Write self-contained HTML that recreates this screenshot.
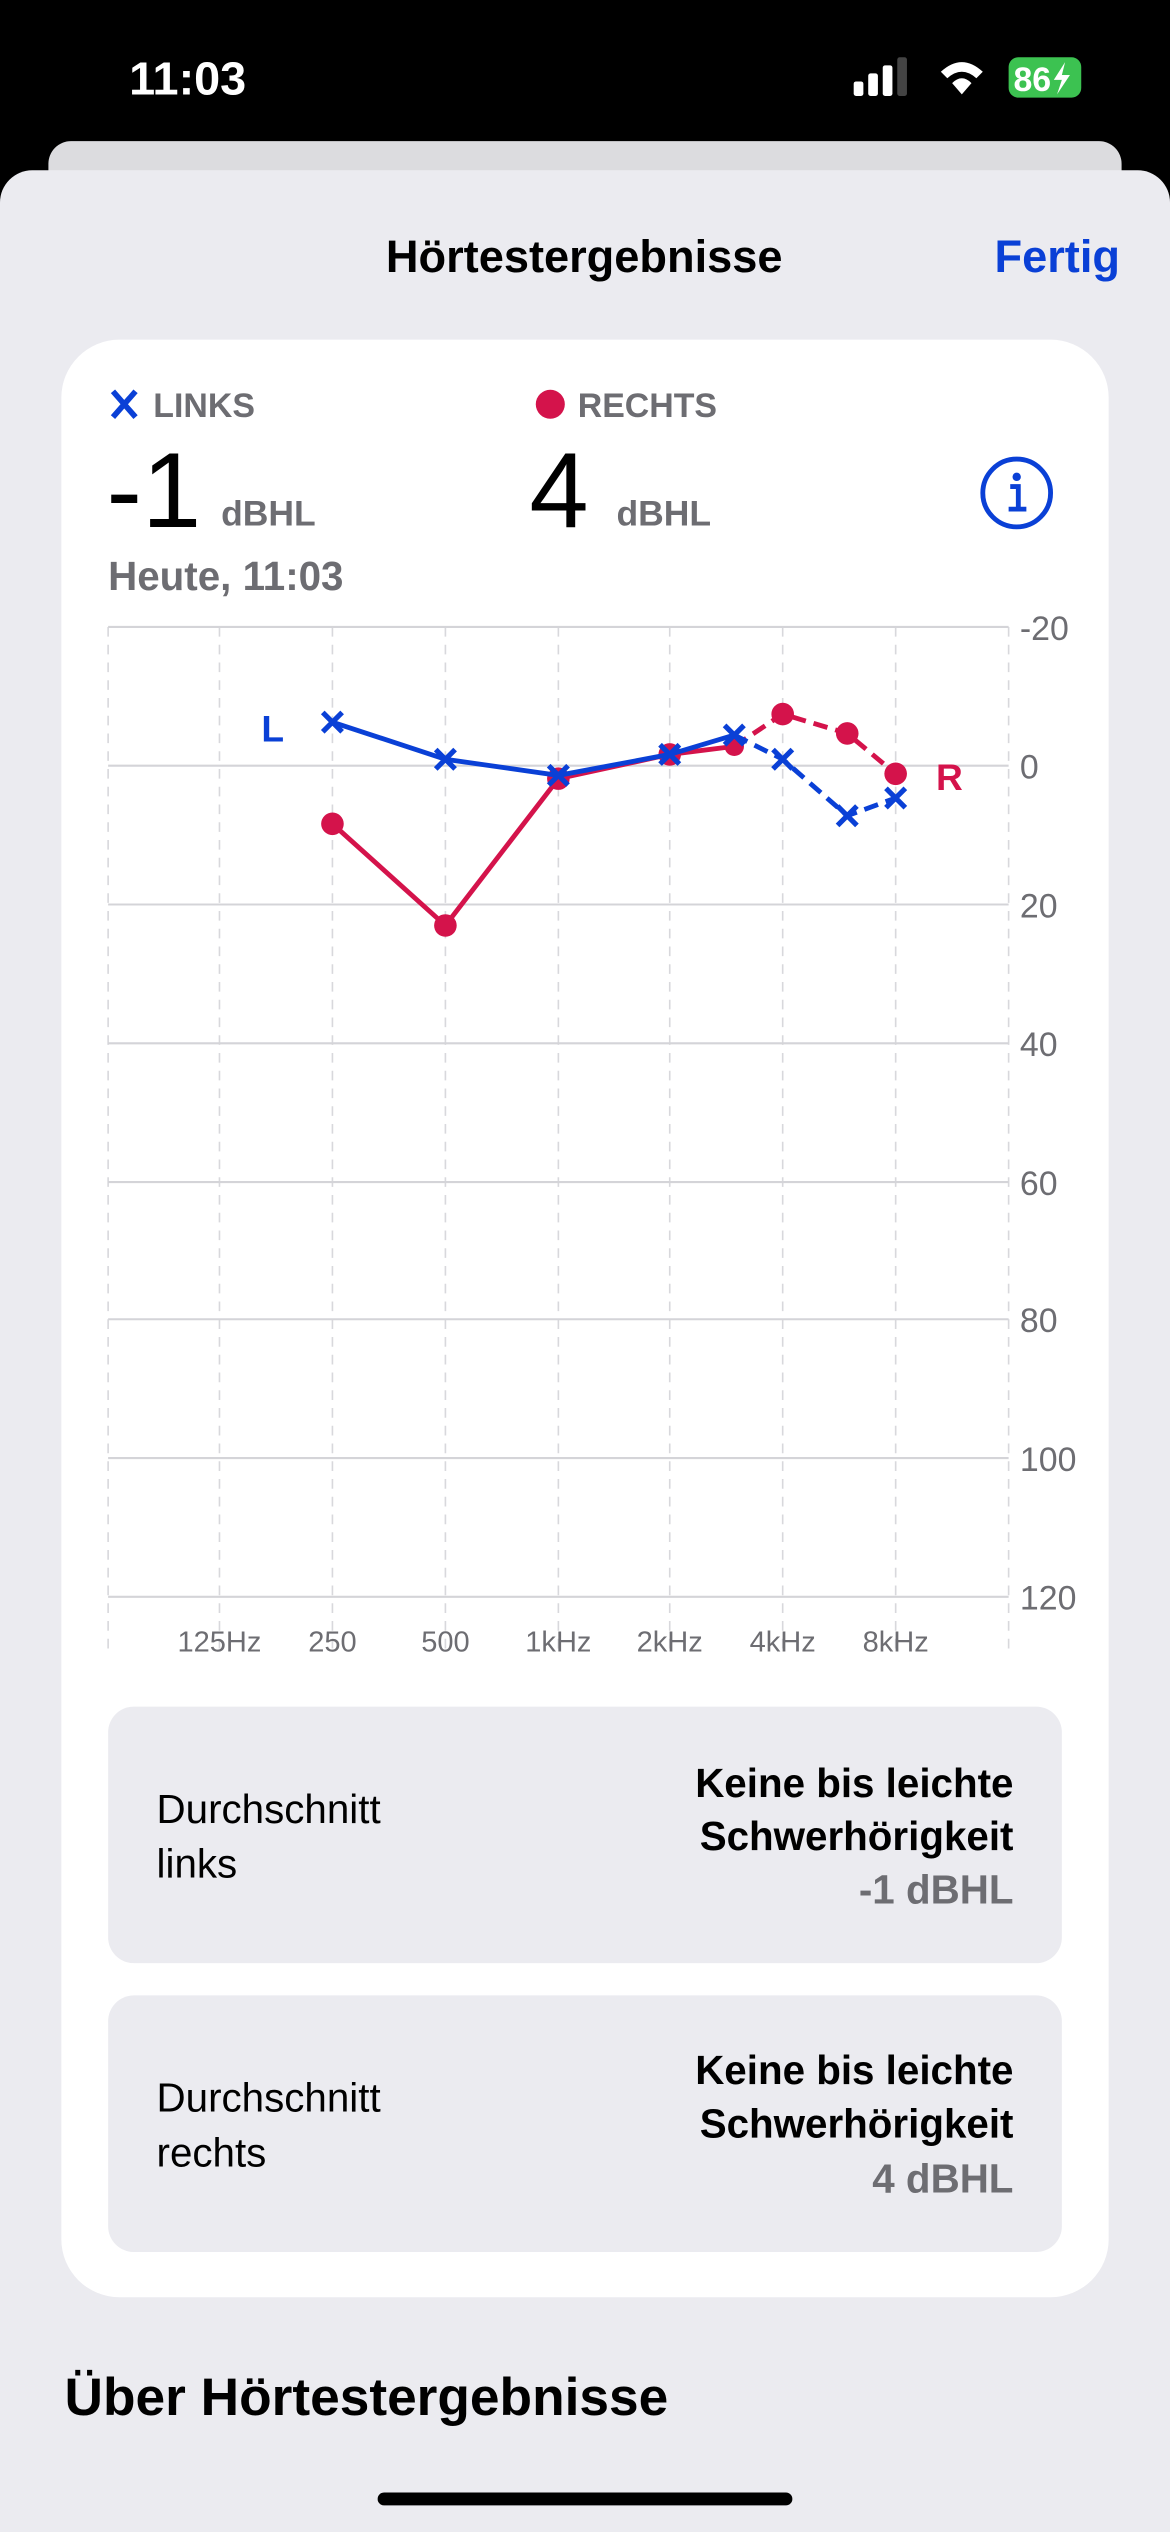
<!DOCTYPE html>
<html><head><meta charset="utf-8"><style>
html,body{margin:0;padding:0;background:#000;width:1170px;height:2532px;overflow:hidden}
svg{display:block}
text{font-family:"Liberation Sans",sans-serif}
</style></head><body>
<svg width="1170" height="2532" viewBox="0 0 725 1568" xmlns="http://www.w3.org/2000/svg">
<rect width="725" height="1568" fill="#000"/>
<text x="80" y="58" font-size="29" font-weight="bold" fill="#fff">11:03</text>
<rect x="529" y="50" width="6" height="9" rx="1.5" fill="#fff"/>
<rect x="538" y="45" width="6" height="14" rx="1.5" fill="#fff"/>
<rect x="547" y="40" width="6" height="19" rx="1.5" fill="#fff"/>
<rect x="556" y="35" width="6" height="24" rx="1.5" fill="#444"/>
<path d="M583 44 Q596 32 609 44 L605 48 Q596 40 587 48Z M590 51 Q596 45 602 51 L596 58Z" fill="#fff"/>
<rect x="625" y="35" width="45" height="25" rx="6" fill="#3cc251"/>
<text x="628" y="56" font-size="21" font-weight="bold" fill="#fff">86</text>
<path d="M660 38 L653 49 L658 49 L655 58 L663 46 L658 46Z" fill="#fff"/>
<rect x="30" y="87" width="665" height="40" rx="14" fill="#dcdcdf"/>
<rect x="0" y="105" width="725" height="1500" rx="20" fill="#ebebf0"/>
<text x="362" y="168" font-size="28" font-weight="bold" text-anchor="middle" fill="#000">Hörtestergebnisse</text>
<text x="694" y="168" font-size="28" font-weight="bold" text-anchor="end" fill="#0a40d6">Fertig</text>
<rect x="38" y="210" width="649" height="1213" rx="36" fill="#fff"/>
<path d="M70 242 L84 258 M84 242 L70 258" stroke="#0a40d6" stroke-width="3.5"/>
<text x="95" y="258" font-size="21" font-weight="bold" fill="#6d6d72">LINKS</text>
<circle cx="341" cy="250" r="9" fill="#d4134b"/>
<text x="358" y="258" font-size="21" font-weight="bold" fill="#6d6d72">RECHTS</text>
<text x="66" y="326" font-size="66" fill="#000">-1</text>
<text x="137" y="325" font-size="22" font-weight="bold" fill="#6d6d72">dBHL</text>
<text x="328" y="326" font-size="66" fill="#000">4</text>
<text x="382" y="325" font-size="22" font-weight="bold" fill="#6d6d72">dBHL</text>
<circle cx="630" cy="305" r="21" fill="none" stroke="#0a40d6" stroke-width="3"/>
<circle cx="630" cy="295" r="2.6" fill="#0a40d6"/>
<path d="M626 301 L631 301 L631 315 M625 315 L636 315" stroke="#0a40d6" stroke-width="3" fill="none"/>
<text x="67" y="365" font-size="25" font-weight="bold" fill="#6d6d72">Heute, 11:03</text>
<g stroke="#d8d8dc" stroke-width="1" stroke-dasharray="6,5">
<line x1="67" y1="388" x2="67" y2="1022"/><line x1="136" y1="388" x2="136" y2="1022"/><line x1="206" y1="388" x2="206" y2="1022"/><line x1="276" y1="388" x2="276" y2="1022"/><line x1="346" y1="388" x2="346" y2="1022"/><line x1="415" y1="388" x2="415" y2="1022"/><line x1="485" y1="388" x2="485" y2="1022"/><line x1="555" y1="388" x2="555" y2="1022"/><line x1="625" y1="388" x2="625" y2="1022"/>
</g>
<g stroke="#d4d4d8" stroke-width="1.3">
<line x1="67" y1="388" x2="625" y2="388"/><line x1="67" y1="474" x2="625" y2="474"/><line x1="67" y1="560" x2="625" y2="560"/><line x1="67" y1="646" x2="625" y2="646"/><line x1="67" y1="732" x2="625" y2="732"/><line x1="67" y1="817" x2="625" y2="817"/><line x1="67" y1="903" x2="625" y2="903"/><line x1="67" y1="989" x2="625" y2="989"/>
</g>
<g font-size="21" fill="#6d6d72">
<text x="632" y="396">-20</text><text x="632" y="482">0</text><text x="632" y="568">20</text><text x="632" y="654">40</text><text x="632" y="740">60</text><text x="632" y="825">80</text><text x="632" y="911">100</text><text x="632" y="997">120</text>
</g>
<g font-size="18" fill="#6d6d72" text-anchor="middle">
<text x="136" y="1023">125Hz</text><text x="206" y="1023">250</text><text x="276" y="1023">500</text><text x="346" y="1023">1kHz</text><text x="415" y="1023">2kHz</text><text x="485" y="1023">4kHz</text><text x="555" y="1023">8kHz</text>
</g>
<g stroke="#d4134b" stroke-width="3" fill="none">
<polyline points="206,510 276,573 346,482 415,467 455,462"/>
<polyline points="455,462 485,442 525,454 555,479" stroke-dasharray="9,5"/>
</g>
<g fill="#d4134b">
<circle cx="206" cy="510" r="7"/><circle cx="276" cy="573" r="7"/><circle cx="346" cy="482" r="7"/><circle cx="415" cy="467" r="7"/><circle cx="455" cy="462" r="6"/><circle cx="485" cy="442" r="7"/><circle cx="525" cy="454" r="7"/><circle cx="555" cy="479" r="7"/>
</g>
<g stroke="#0a40d6" stroke-width="3" fill="none">
<polyline points="206,447 276,470 346,480 415,467 455,455"/>
<polyline points="455,455 485,470 525,505 555,494" stroke-dasharray="9,5"/>
</g>
<g stroke="#0a40d6" stroke-width="3.2">
<path d="M200 441 L212 453 M212 441 L200 453"/>
<path d="M270 464 L282 476 M282 464 L270 476"/>
<path d="M340 474 L352 486 M352 474 L340 486"/>
<path d="M409 461 L421 473 M421 461 L409 473"/>
<path d="M449 449 L461 461 M461 449 L449 461"/>
<path d="M479 464 L491 476 M491 464 L479 476"/>
<path d="M519 499 L531 511 M531 499 L519 511"/>
<path d="M549 488 L561 500 M561 488 L549 500"/>
</g>
<text x="162" y="459" font-size="23" font-weight="bold" fill="#0a40d6">L</text>
<text x="580" y="489" font-size="23" font-weight="bold" fill="#d4134b">R</text>
<rect x="67" y="1057" width="591" height="159" rx="16" fill="#ebebf0"/>
<rect x="67" y="1236" width="591" height="159" rx="16" fill="#ebebf0"/>
<g font-size="25" fill="#000">
<text x="97" y="1129">Durchschnitt</text><text x="97" y="1163">links</text>
<text x="97" y="1308">Durchschnitt</text><text x="97" y="1342">rechts</text>
</g>
<g font-size="25" font-weight="bold" text-anchor="end">
<text x="628" y="1113" fill="#000">Keine bis leichte</text><text x="628" y="1146" fill="#000">Schwerhörigkeit</text><text x="628" y="1179" fill="#6d6d72">-1 dBHL</text>
<text x="628" y="1291" fill="#000">Keine bis leichte</text><text x="628" y="1324" fill="#000">Schwerhörigkeit</text><text x="628" y="1358" fill="#6d6d72">4 dBHL</text>
</g>
<text x="40" y="1496" font-size="33" font-weight="bold" fill="#000">Über Hörtestergebnisse</text>
<rect x="234" y="1544" width="257" height="8" rx="4" fill="#000"/>
</svg>
</body></html>
